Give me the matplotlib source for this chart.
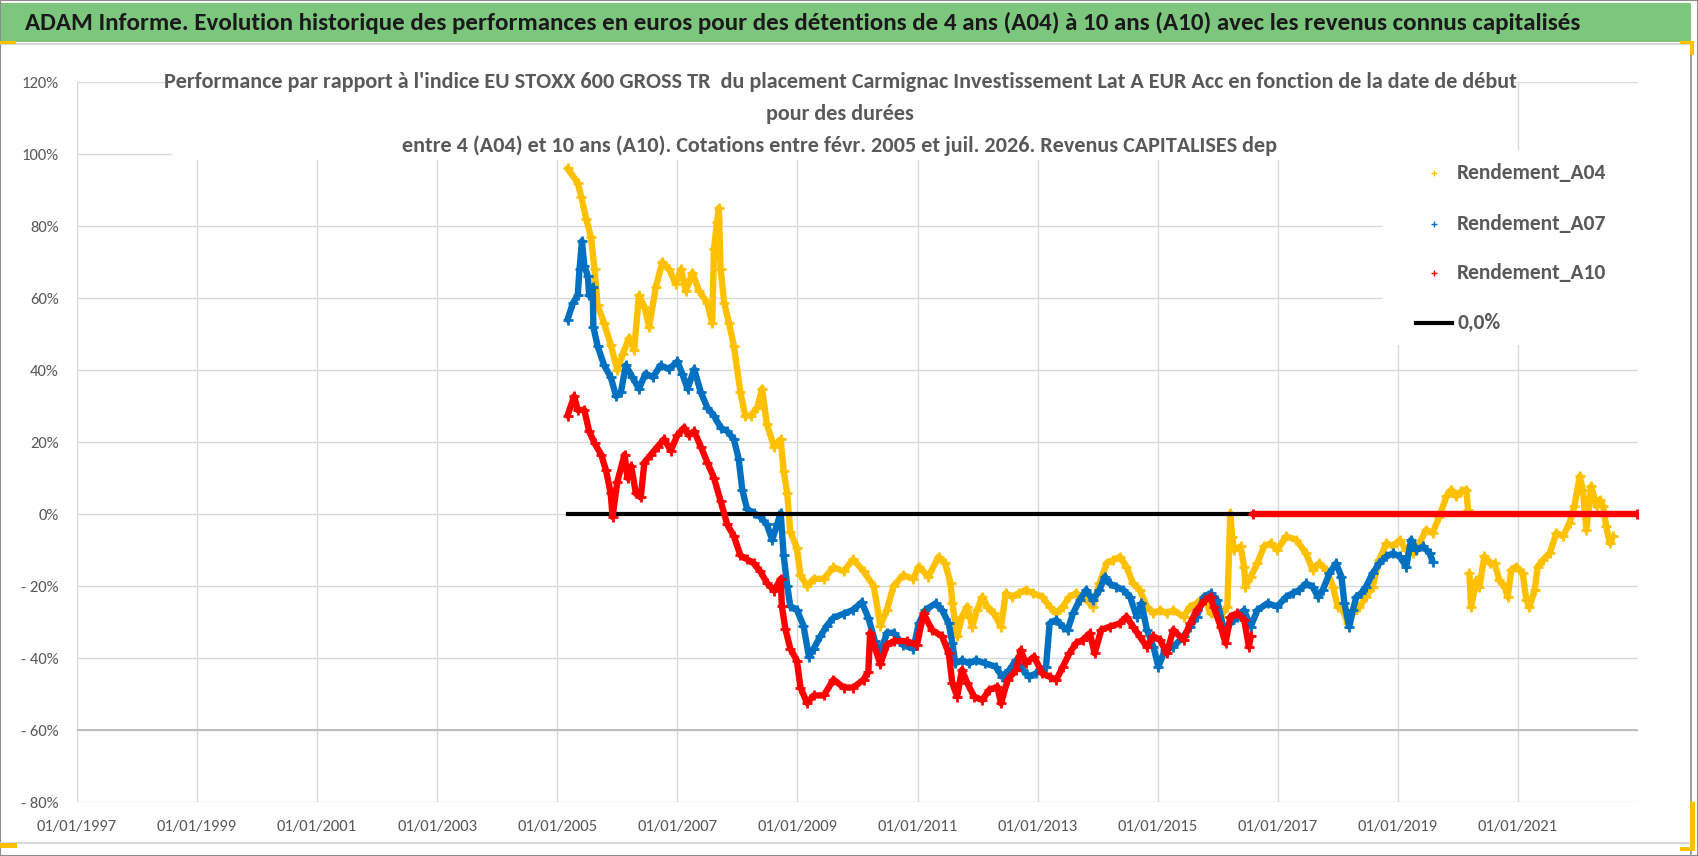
import numpy as np
import matplotlib
matplotlib.use("Agg")
import matplotlib.pyplot as plt
from matplotlib import font_manager
from matplotlib.patches import Rectangle
from matplotlib.lines import Line2D

W, H, DPI = 1698, 856, 100

# ---- data (x = decimal year, y = %) ----
A04_X = [2005.17, 2005.34, 2005.40, 2005.48, 2005.56, 2005.62, 2005.67, 2005.78, 2005.89, 2006.00,
         2006.09, 2006.20, 2006.28, 2006.36, 2006.45, 2006.53, 2006.64, 2006.75, 2006.86, 2006.97,
         2007.06, 2007.14, 2007.25, 2007.36, 2007.50, 2007.58, 2007.61, 2007.66, 2007.69, 2007.72,
         2007.78, 2007.86, 2007.94, 2008.05, 2008.13, 2008.22, 2008.33, 2008.41, 2008.49, 2008.61,
         2008.72, 2008.77, 2008.83, 2008.88, 2008.99, 2009.05, 2009.16, 2009.27, 2009.44, 2009.60,
         2009.77, 2009.93, 2010.10, 2010.27, 2010.38, 2010.49, 2010.60, 2010.76, 2010.93,
         2011.02, 2011.18, 2011.35, 2011.46, 2011.55, 2011.58, 2011.66, 2011.74, 2011.83, 2011.91,
         2011.99, 2012.08, 2012.16, 2012.27, 2012.39, 2012.47, 2012.58, 2012.69, 2012.80, 2012.92,
         2013.08, 2013.20, 2013.31, 2013.42, 2013.53, 2013.64, 2013.75, 2013.92, 2014.03, 2014.15,
         2014.26, 2014.37, 2014.48, 2014.59, 2014.70, 2014.82, 2014.93, 2015.04, 2015.15, 2015.26,
         2015.43, 2015.54, 2015.65, 2015.77, 2015.88, 2016.05, 2016.16, 2016.21, 2016.24, 2016.27,
         2016.38, 2016.44, 2016.46, 2016.55, 2016.66, 2016.77, 2016.88, 2016.99,
         2017.14, 2017.31, 2017.47, 2017.58, 2017.69, 2017.81, 2017.92, 2018.00, 2018.08, 2018.17,
         2018.25, 2018.36, 2018.47, 2018.58, 2018.69, 2018.81, 2018.92, 2019.03, 2019.14, 2019.25,
         2019.36, 2019.47, 2019.58, 2019.69, 2019.81, 2019.89, 2019.97, 2020.06, 2020.14, 2020.17,
         np.nan,
         2020.19, 2020.22, 2020.31, 2020.36, 2020.44, 2020.53, 2020.61, 2020.69, 2020.78, 2020.83,
         2020.89, 2020.97, 2021.08, 2021.14, 2021.19, 2021.28, 2021.33, 2021.42, 2021.53, 2021.64,
         2021.75, 2021.86, 2021.94, 2022.03, 2022.08, 2022.14, 2022.22, 2022.31, 2022.36, 2022.42,
         2022.47, 2022.53, 2022.58]
A04_Y = [96, 92, 88, 82, 77, 68, 58, 53, 47, 40,
         44.5, 49, 45.6, 60.7, 57.5, 52, 63, 70, 68, 64,
         68, 62, 67, 62, 58.6, 53, 73.7, 81, 85, 68,
         58.6, 53, 46.7, 33.8, 27.3, 27.3, 29.5, 34.8, 25, 18.7,
         20.8, 12, 5.7, -5, -9.4, -17, -20, -18, -18, -14.8,
         -15.9, -12.6, -15.9, -20, -31, -26.6, -20, -17, -18,
         -14.6, -17.4, -11.9, -13.7, -19.3, -24.8, -34, -28.5, -25.7, -31.3,
         -26.7, -23, -25.7, -27.6, -31.3, -22, -23, -22, -21.1, -22,
         -23, -25.7, -27.6, -25.7, -23, -22, -23, -25.7, -19.3, -13.7,
         -12.8, -11.9, -14.6, -19.3, -21.1, -25.7, -27.6, -26.7, -27.6, -26.7,
         -28.5, -25.7, -24.8, -23, -27.6, -28.5, -25.7, 0.2, -6.3, -10,
         -9, -14.6, -20.2, -17.4, -13.7, -9, -8.1, -10,
         -6.2, -7.2, -10.9, -15.5, -13.7, -15.5, -20.2, -25.8, -26.7, -30.4,
         -27.6, -25.8, -23, -20.2, -12.7, -8.1, -9, -7.2, -10, -10.9,
         -8.1, -4.4, -5.3, -0.7, 4.9, 6.8, 4.9, 6.3, 6.8, 1.2,
         np.nan,
         -16.5, -25.8, -18.3, -20.2, -11.8, -13.7, -13.7, -18.3, -20.2, -23,
         -15.5, -14.6, -16.5, -23.9, -25.8, -21.1, -14.6, -12.7, -10.9, -5.3,
         -6.2, -2.5, 2.1, 10.5, 6.8, -4.4, 7.7, 2.1, 4, 2.1,
         -3.4, -8.1, -6.2]

A07_X = [2005.17, 2005.26, 2005.34, 2005.37, 2005.41, 2005.45, 2005.51, 2005.53, 2005.59, 2005.60,
         2005.67, 2005.78, 2005.89, 2005.98, 2006.06, 2006.14, 2006.25, 2006.36, 2006.47, 2006.59,
         2006.72, 2006.86, 2007.00, 2007.08, 2007.17, 2007.28, 2007.39, 2007.50, 2007.61, 2007.72,
         2007.83, 2007.94, 2008.02, 2008.08, 2008.16, 2008.27, 2008.38, 2008.49, 2008.58, 2008.66,
         2008.72, 2008.77, 2008.83, 2008.88, 2008.99, 2009.10, 2009.19, 2009.27, 2009.38, 2009.49,
         2009.60, 2009.77, 2009.93, 2010.07, 2010.18, 2010.29, 2010.38, 2010.49, 2010.60, 2010.76,
         2010.93,
         2011.02, 2011.13, 2011.30, 2011.41, 2011.52, 2011.58, 2011.63, 2011.74, 2011.86, 2011.97,
         2012.13, 2012.30, 2012.41, 2012.53, 2012.64, 2012.75, 2012.86, 2012.97, 2013.14, 2013.20,
         2013.31, 2013.42, 2013.50, 2013.59, 2013.70, 2013.81, 2013.92, 2014.03, 2014.12, 2014.20,
         2014.31, 2014.43, 2014.54, 2014.65, 2014.73, 2014.82, 2014.93, 2015.01, 2015.12, 2015.26,
         2015.43, 2015.54, 2015.65, 2015.77, 2015.88, 2015.99, 2016.10, 2016.21, 2016.32, 2016.44,
         2016.55, 2016.66, 2016.83, 2016.99,
         2017.14, 2017.25, 2017.36, 2017.47, 2017.58, 2017.67, 2017.75, 2017.86, 2017.97, 2018.06,
         2018.11, 2018.19, 2018.25, 2018.31, 2018.39, 2018.47, 2018.58, 2018.69, 2018.81, 2018.92,
         2019.03, 2019.14, 2019.22, 2019.31, 2019.42, 2019.53, 2019.58]
A07_Y = [54, 58.6, 60.7, 68, 75.8, 69, 66, 60.7, 63, 52,
         46.7, 41.3, 38, 32.7, 33.8, 41.3, 38, 34.8, 39, 38,
         41.3, 40.2, 42.4, 39, 34.8, 40.2, 33.8, 29.5, 27.3, 24,
         23, 20.8, 15.4, 6.8, 1.4, 0.3, -0.8, -2.9, -7.2, -2.9,
         0.3, -11.5, -20, -25.6, -26.6, -31, -39.6, -37.4, -34, -31,
         -28.8, -27.7, -26.6, -24.5, -28.8, -35.3, -38.5, -33, -33, -36.4,
         -37.4,
         -30.4, -26.7, -24.8, -26.7, -30.4, -35.9, -41.5, -40.6, -41.5, -40.6,
         -41.5, -42.4, -45.2, -43.3, -40.6, -43.3, -45.2, -44.3, -42.4, -30.4,
         -29.4, -31.3, -32.2, -27.6, -23.9, -21.1, -23.9, -21.1, -17.4, -19.3,
         -20.2, -21.1, -23, -28.5, -24.8, -32.2, -36.9, -42.4, -37.8, -36.9,
         -34, -31.3, -28.5, -23, -22, -23.9, -32.2, -30.4, -28.5, -26.7,
         -31.3, -26.7, -24.8, -25.7,
         -23, -22, -21.1, -19.3, -20.2, -23, -21.1, -16.5, -13.7, -17.4,
         -24.8, -31.3, -26.7, -23, -22, -20.2, -16.5, -13.7, -11.8, -10.9,
         -11.8, -14.6, -7.2, -10, -9, -10.9, -13.2]

A10_X = [2005.17, 2005.28, 2005.34, 2005.45, 2005.53, 2005.62, 2005.73, 2005.81, 2005.89, 2005.92,
         2006.00, 2006.12, 2006.17, 2006.23, 2006.31, 2006.39, 2006.45, 2006.56, 2006.67, 2006.78,
         2006.89, 2007.00, 2007.11, 2007.19, 2007.28, 2007.39, 2007.50, 2007.61, 2007.72, 2007.83,
         2007.94, 2008.05, 2008.16, 2008.27, 2008.38, 2008.49, 2008.61, 2008.72, 2008.74, 2008.80,
         2008.88, 2008.99, 2009.05, 2009.16, 2009.27, 2009.44, 2009.60, 2009.77, 2009.93, 2010.10,
         2010.18, 2010.21, 2010.38, 2010.49, 2010.60, 2010.82, 2010.99,
         2011.10, 2011.24, 2011.41, 2011.52, 2011.58, 2011.66, 2011.74, 2011.83, 2011.94, 2012.08,
         2012.19, 2012.33, 2012.39, 2012.50, 2012.64, 2012.72, 2012.80, 2012.94, 2013.08, 2013.20,
         2013.31, 2013.42, 2013.53, 2013.64, 2013.75, 2013.87, 2013.95, 2014.06, 2014.20, 2014.37,
         2014.48, 2014.59, 2014.70, 2014.82, 2014.93, 2015.04, 2015.15, 2015.26, 2015.43, 2015.54,
         2015.65, 2015.79, 2015.88, 2015.93, 2016.05, 2016.13, 2016.21, 2016.32, 2016.44, 2016.52,
         2016.55,
         np.nan,
         2016.58, 2022.98]
A10_Y = [27.3, 32.7, 28.9, 28.9, 23, 19.7, 16.5, 12.2, 5.7, -0.8,
         9, 16.5, 10, 13.3, 5.7, 4.6, 14.3, 16.5, 18.7, 20.8,
         17.6, 21.9, 24, 21.9, 23, 18.7, 14.3, 10, 3.6, -2.9,
         -6.1, -11.5, -12.6, -13.7, -15.9, -19.1, -21.3, -18, -25.6, -32,
         -37.4, -40.7, -48.2, -52.5, -50.4, -50.4, -46, -48.2, -48.2, -46,
         -43.9, -33, -41.7, -36.4, -35.3, -35.3, -36.4,
         -27.6, -32.2, -34, -38.7, -47, -50.7, -43.3, -47, -50.7, -51.7,
         -48.9, -48, -52.6, -46.1, -43.3, -37.8, -41.5, -39.6, -44.3, -45.2,
         -46.1, -42.4, -38.7, -35.9, -35, -33.1, -38.7, -32.2, -31.3, -30.4,
         -28.5, -31.3, -34, -36.9, -34, -35, -38.7, -32.2, -35, -30.4,
         -26.7, -23.9, -23, -25.7, -31.3, -35.9, -28.5, -27.6, -29.4, -36.9,
         -34,
         np.nan,
         0, 0]

ZERO_X = [2005.17, 2016.58]
ZERO_Y = [0, 0]

SERIES = ["Rendement_A04", "Rendement_A07", "Rendement_A10"]
COLORS = ["#FFC000", "#0070C0", "#FF0000"]
YTICKS = [-80, -60, -40, -20, 0, 20, 40, 60, 80, 100, 120]
YLABELS = ["- 80%", "- 60%", "- 40%", "- 20%", "0%", "20%", "40%", "60%", "80%", "100%", "120%"]
XTICKS = list(range(1997, 2022, 2))

TITLE = ("ADAM Informe. Evolution historique des performances en euros pour des détentions "
         "de 4 ans (A04) à 10 ans (A10) avec les revenus connus capitalisés")
SUBTITLE = ["Performance par rapport à l'indice EU STOXX 600 GROSS TR  du placement Carmignac "
            "Investissement Lat A EUR Acc en fonction de la date de début",
            "pour des durées",
            "entre 4 (A04) et 10 ans (A10). Cotations entre févr. 2005 et juil. 2026. Revenus CAPITALISES dep"]


def pick_font(cands):
    names = {f.name for f in font_manager.fontManager.ttflist}
    for c in cands:
        if c in names:
            return c
    return "DejaVu Sans"


# Calibri look-alikes first, narrow ones preferred
FONT = pick_font(["Carlito", "Liberation Sans Narrow", "Roboto Condensed", "Open Sans"])
plt.rcParams["font.family"] = [FONT, "DejaVu Sans"]
GREY = "#595959"

fig = plt.figure(figsize=(W / DPI, H / DPI), dpi=DPI)
fig.patch.set_facecolor("white")
R = fig.canvas.get_renderer()


def fx(x):
    return x / W


def fy(y):
    return 1 - y / H


def box(x0, y0, x1, y1, **kw):
    r = Rectangle((fx(x0), fy(y1)), (x1 - x0) / W, (y1 - y0) / H,
                  transform=fig.transFigure, **kw)
    fig.add_artist(r)
    return r


def fit_text(x, y, s, width, **kw):
    t = fig.text(fx(x), fy(y), s, **kw)
    w = t.get_window_extent(R).width
    t.set_fontsize(t.get_fontsize() * width / w)
    return t


# ---- plot area ----
ax = fig.add_axes([fx(77), fy(802), 1561 / W, 720 / H])
ax.set_xlim(1997, 2023)
ax.set_ylim(-80, 120)
for s in ax.spines.values():
    s.set_visible(False)
ax.set_xticks(XTICKS)
ax.set_xticklabels([f"01/01/{y}" for y in XTICKS])
ax.set_yticks(YTICKS)
ax.set_yticklabels(YLABELS)
ax.tick_params(length=0, labelcolor=GREY, labelsize=11, pad=13)
# size the tick labels so "01/01/1997" is about 80 px wide, as in the reference
w0 = ax.get_xticklabels()[0].get_window_extent(R).width
ax.tick_params(labelsize=11 * 80 / w0)
ax.grid(color="#D9D9D9", lw=1.0)
ax.set_axisbelow(True)
ax.axhline(-60, color="#BDBDBD", lw=1.4, zorder=0.6)

for xs, ys, c, z in zip([A04_X, A07_X, A10_X], [A04_Y, A07_Y, A10_Y], COLORS, [2, 3, 4]):
    ax.plot(xs, ys, color=c, lw=4.6, marker="+", ms=7, mew=2.0, zorder=z,
            solid_joinstyle="round", solid_capstyle="round")
ax.plot(ZERO_X, ZERO_Y, color="black", lw=3, zorder=3.5)

# ---- frame / title bar ----
box(0, 0, W, H, facecolor="none", edgecolor="#8C8C8C", lw=1.5, zorder=0.5)
box(1, 3, 1691, 42, facecolor="#7DC67E", edgecolor="none", zorder=1)
fig.add_artist(Line2D([0, fx(1690)], [fy(44), fy(44)], color="#D0D0D0", lw=1.2,
                      transform=fig.transFigure))
fig.add_artist(Line2D([0, fx(1690)], [fy(843), fy(843)], color="#D0D0D0", lw=1.2,
                      transform=fig.transFigure))
fig.add_artist(Line2D([fx(1691), fx(1691)], [fy(44), fy(854)], color="#8C8C8C", lw=1.2,
                      transform=fig.transFigure))
for r in [(0, 41, 16, 44), (1680, 41, 1694, 44), (1690, 41, 1694, 55),
          (1690, 802, 1695, 851), (1680, 847, 1695, 851), (0, 843, 17, 848)]:
    box(*r, facecolor="#FFC000", edgecolor="none", zorder=2)

fit_text(803, 23, TITLE, 1559, ha="center", va="center", fontsize=17,
         fontweight="bold", color="#1A1A1A")

# white boxes of chart title and legend (they hide the gridlines)
box(172, 58, 1512, 160, facecolor="white", edgecolor="none", zorder=1)
box(1383, 150, 1640, 345, facecolor="white", edgecolor="none", zorder=1)

t1 = fit_text(840, 82, SUBTITLE[0], 1349, ha="center", va="center", fontsize=13,
              fontweight="bold", color=GREY)
for s, y in zip(SUBTITLE[1:], [114, 146]):
    fig.text(fx(840), fy(y), s, ha="center", va="center", fontsize=t1.get_fontsize(),
             fontweight="bold", color=GREY)

# ---- legend ----
ly = [173, 224, 273, 323]
lt = fit_text(1457, ly[0], SERIES[0], 150, ha="left", va="center", fontsize=16,
              fontweight="bold", color=GREY)
for s, y in zip(SERIES[1:] + ["0,0%"], ly[1:]):
    fig.text(fx(1457), fy(y), s, ha="left", va="center", fontsize=lt.get_fontsize(),
             fontweight="bold", color=GREY)
for c, y in zip(COLORS, ly[:3]):
    fig.add_artist(Line2D([fx(1434)], [fy(y)], ls="none", marker="+", ms=5, mew=1.0,
                          color=c, transform=fig.transFigure))
fig.add_artist(Line2D([fx(1416), fx(1452)], [fy(ly[3]), fy(ly[3])], color="black", lw=3,
                      transform=fig.transFigure))

fig.savefig("out.png", dpi=DPI)
